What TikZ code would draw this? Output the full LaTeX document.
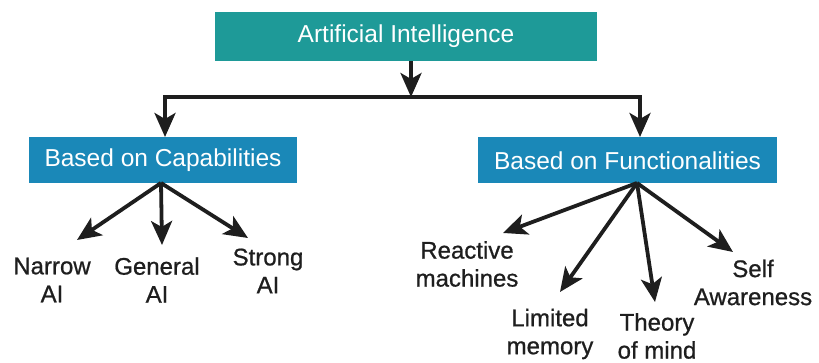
\documentclass[tikz,border=0pt]{standalone}
\usepackage{fontspec}
\setmainfont{Liberation Sans}
\newfontfamily\leaffont[FakeBold=0.8]{Liberation Sans}
\usetikzlibrary{arrows.meta}
\definecolor{teal1}{HTML}{1E9A98}
\definecolor{blue1}{HTML}{1A88B8}
\definecolor{ink}{HTML}{1E1E1E}
\tikzset{
  box/.style={draw=none, inner sep=0pt, text=white, font=\fontsize{24.5}{28}\selectfont},
  leaf/.style={inner sep=0pt, align=center, text=ink, font=\leaffont\fontsize{24}{28}\selectfont},
  conn/.style={draw=ink, line width=3.8pt, -{Stealth[length=24pt,width=21pt,inset=6pt]}},
  bar/.style={draw=ink, line width=3.8pt},
}
\begin{document}
\begin{tikzpicture}[x=1pt,y=-1pt]
\useasboundingbox (0,0) rectangle (819,363);
\node[box, fill=teal1, minimum width=382pt, minimum height=49pt] (ai) at (406,36.5) {Artificial Intelligence};
\node[box, fill=blue1, minimum width=268pt, minimum height=46pt] (cap) at (163,160.5) {Based on Capabilities};
\node[box, fill=blue1, minimum width=299pt, minimum height=46pt] (fun) at (627.5,160.5) {Based on Functionalities};

\node[leaf] (narrow) at (52,280) {Narrow\\AI};
\node[leaf] (general) at (157,280) {General\\AI};
\node[leaf] (strong) at (268,271) {Strong\\AI};
\node[leaf] (reactive) at (467,264) {Reactive\\machines};
\node[leaf] (limited) at (550,334) {Limited\\memory};
\node[leaf] (theory) at (657,336) {Theory\\of mind};
\node[leaf] (self) at (753,282.5) {Self\\Awareness};

\coordinate (j) at (411,97);
\coordinate (bl) at (165,97);
\coordinate (br) at (640,97);
\coordinate (capin) at (165,137);
\coordinate (funin) at (640,137);
\coordinate (co) at (161,183);
\coordinate (fo) at (637,183);
\coordinate (tn) at (77,240);
\coordinate (tg) at (162,245);
\coordinate (ts) at (248,238);
\coordinate (tr) at (503,233);
\coordinate (tl) at (560,292);
\coordinate (tt) at (655,302);
\coordinate (tw) at (733,252);

\draw[conn] (ai.south -| j) -- (j);
\draw[bar, line cap=rect] (bl) -- (br);
\draw[conn] (bl) -- (capin);
\draw[conn] (br) -- (funin);

\draw[conn] (co) -- (tn);
\draw[conn] (co) -- (tg);
\draw[conn] (co) -- (ts);
\draw[conn] (fo) -- (tr);
\draw[conn] (fo) -- (tl);
\draw[conn] (fo) -- (tt);
\draw[conn] (fo) -- (tw);
\end{tikzpicture}
\end{document}
